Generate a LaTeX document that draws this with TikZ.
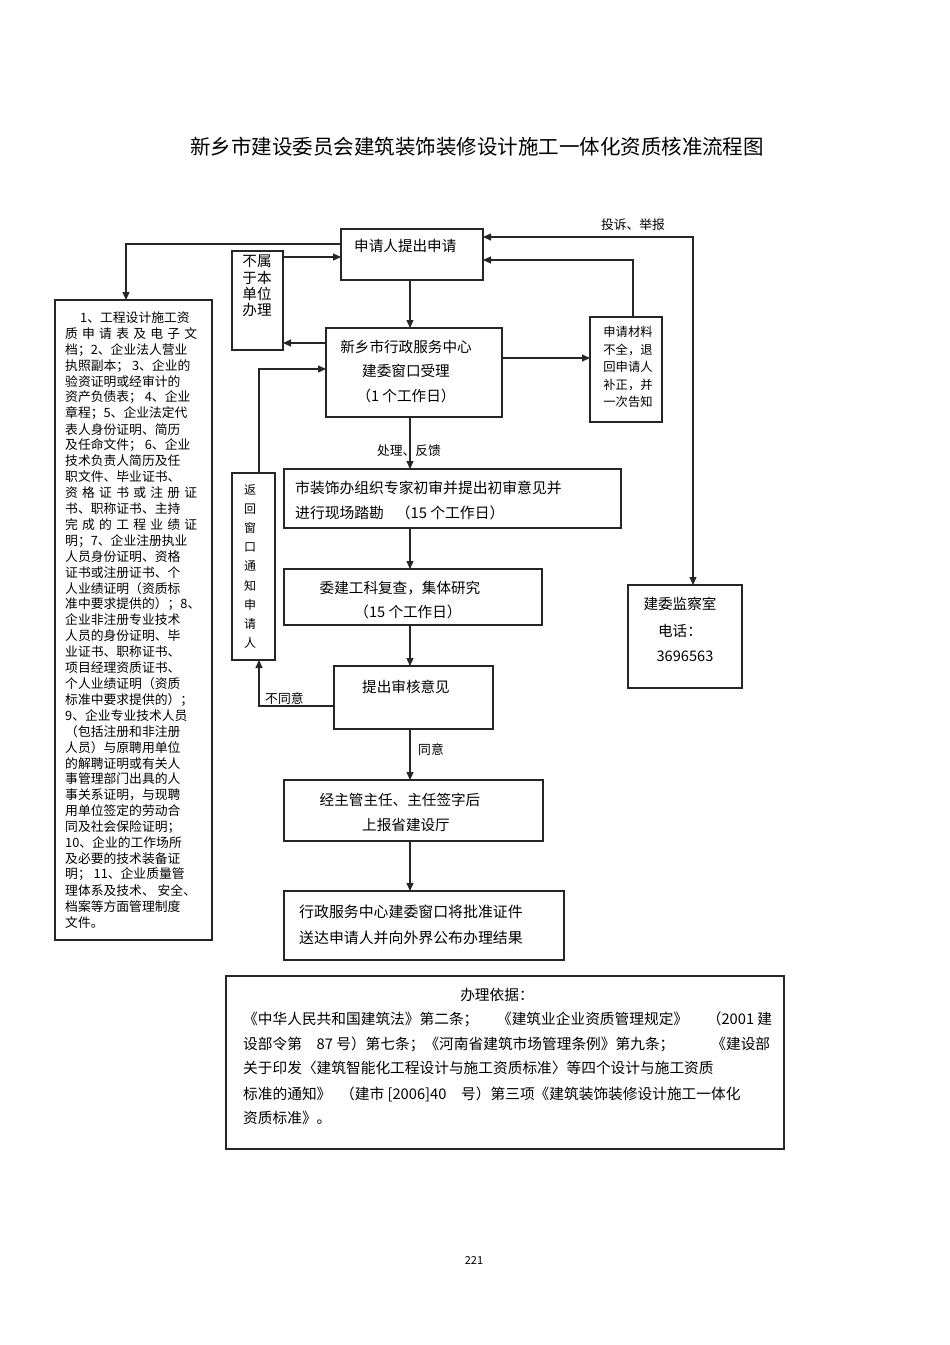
\documentclass[tikz,border=0pt]{standalone}
\usepackage{fontspec}
\setmainfont{Noto Sans CJK SC}
\usetikzlibrary{arrows.meta}
\newcommand\myfs[2]{\fontsize{#1}{#2}\selectfont}
\begin{document}
\begin{tikzpicture}[x=1pt,y=-1pt,
  box/.style={draw=black!85,line width=1.2pt,inner sep=0pt,outer sep=0pt},
  conn/.style={draw=black!85,line width=1.1pt},
  arr/.style={conn,-{Triangle[length=8pt,width=7pt]}},
  arrboth/.style={conn,{Triangle[length=8pt,width=7pt]}-{Triangle[length=8pt,width=7pt]}},
  txt/.style={inner sep=0pt,font=\myfs{14.6}{24.5}},
  doc/.style={inner sep=0pt,anchor=west,font=\myfs{12.8}{14}},
  lbl/.style={inner sep=0pt,font=\myfs{12.8}{14}},
  basisfont/.style={font=\myfs{14.7}{16}}]
\useasboundingbox[fill=white] (0,0) rectangle (950,1345);

% title
\node[inner sep=0pt,font=\myfs{20.5}{24}] (title) at (477,147) {新乡市建设委员会建筑装饰装修设计施工一体化资质核准流程图};

% boxes
\node[box,minimum width=142pt,minimum height=51pt] (apply) at (412,254.5) {};
\node[box,minimum width=51pt,minimum height=99pt] (notours) at (257.5,300.5) {};
\node[box,minimum width=176pt,minimum height=89pt] (center) at (414,372.5) {};
\node[box,minimum width=72pt,minimum height=105pt] (incomplete) at (626,369.5) {};
\node[box,minimum width=157pt,minimum height=640pt] (docs) at (133.5,620) {};
\node[box,minimum width=43pt,minimum height=187pt] (ret) at (253.5,566.5) {};
\node[box,minimum width=337pt,minimum height=59pt] (expert) at (452.5,498.5) {};
\node[box,minimum width=258pt,minimum height=56pt] (review) at (413,597) {};
\node[box,minimum width=159pt,minimum height=63pt] (opinion) at (413.5,697.5) {};
\node[box,minimum width=259pt,minimum height=61pt] (sign) at (413.5,810.5) {};
\node[box,minimum width=280pt,minimum height=69pt] (deliver) at (424,925.5) {};
\node[box,minimum width=114pt,minimum height=103pt] (supervise) at (685,636.5) {};
\node[box,minimum width=558pt,minimum height=173pt] (basis) at (505,1062.5) {};

% box texts
\node[txt,anchor=west] (applyt) at (354,246) {申请人提出申请};
\node[txt,align=center,font=\myfs{14.6}{16.2}] (notourst) at (257,286) {不属\\于本\\单位\\办理};
\node[txt,align=center] (centert) at (406,371.5) {新乡市行政服务中心\\建委窗口受理\\（1 个工作日）};
\node[txt,align=center,font=\myfs{12.3}{17.6}] (incompletet) at (628,367) {申请材料\\不全，退\\回申请人\\补正，并\\一次告知};
\node[txt,align=center,font=\myfs{12}{19.1}] (rett) at (250,566.5) {返\\回\\窗\\口\\通\\知\\申\\请\\人};
\node[txt,align=left,anchor=west,font=\myfs{14.8}{25}] (expertt) at (295,500.5) {市装饰办组织专家初审并提出初审意见并\\进行现场踏勘\hspace{0.8em}（15 个工作日）};
\node[txt] (reviewt1) at (400,588) {委建工科复查，集体研究};
\node[txt] (reviewt2) at (408,612) {（15 个工作日）};
\node[txt] (opiniont) at (406,687) {提出审核意见};
\node[txt] (signt1) at (400,800) {经主管主任、主任签字后};
\node[txt] (signt2) at (406,825) {上报省建设厅};
\node[txt,align=left,anchor=west,font=\myfs{14.9}{26}] (delivert) at (299,925) {行政服务中心建委窗口将批准证件\\送达申请人并向外界公布办理结果};
\node[txt] (supt1) at (680,604) {建委监察室};
\node[txt] (supt2) at (680,631) {电话：};
\node[txt] (supt3) at (685,656) {3696563};

% docs list
\node[doc] (d1) at (80,318) {1、工程设计施工资};
\foreach \t [count=\i from 2] in {
 {\makebox[132pt][l]{质\hfill 申\hfill 请\hfill 表\hfill 及\hfill 电\hfill 子\hfill 文}},
 {档；2、企业法人营业},
 {执照副本； 3、企业的},
 {验资证明或经审计的},
 {资产负债表； 4、企业},
 {章程；5、企业法定代},
 {表人身份证明、简历},
 {及任命文件； 6、企业},
 {技术负责人简历及任},
 {职文件、毕业证书、},
 {\makebox[132pt][l]{资\hfill 格\hfill 证\hfill 书\hfill 或\hfill 注\hfill 册\hfill 证}},
 {书、职称证书、主持},
 {\makebox[132pt][l]{完\hfill 成\hfill 的\hfill 工\hfill 程\hfill 业\hfill 绩\hfill 证}},
 {明；7、企业注册执业},
 {人员身份证明、资格},
 {证书或注册证书、个},
 {人业绩证明（资质标},
 {准中要求提供的）；8、},
 {企业非注册专业技术},
 {人员的身份证明、毕},
 {业证书、职称证书、},
 {项目经理资质证书、},
 {个人业绩证明（资质},
 {标准中要求提供的）；},
 {9、企业专业技术人员},
 {（包括注册和非注册},
 {人员）与原聘用单位},
 {的解聘证明或有关人},
 {事管理部门出具的人},
 {事关系证明，与现聘},
 {用单位签定的劳动合},
 {同及社会保险证明；},
 {10、企业的工作场所},
 {及必要的技术装备证},
 {明； 11、企业质量管},
 {理体系及技术、 安全、},
 {档案等方面管理制度},
 {文件。}}
  \node[doc] (d\i) at (65,{318+15.9*(\i-1)}) {\t};

% basis text
\node[txt,basisfont] (basist0) at (497,995) {办理依据：};
\node[txt,anchor=west,basisfont] (basist1) at (243,1019) {\makebox[529pt][l]{《中华人民共和国建筑法》第二条；\hfill《建筑业企业资质管理规定》\hfill（2001 建}};
\node[txt,anchor=west,basisfont] (basist2) at (243,1044) {\makebox[527pt][l]{设部令第\hspace{1em}87 号）第七条；《河南省建筑市场管理条例》第九条；\hfill《建设部}};
\node[txt,anchor=west,basisfont] (basist3) at (243,1068) {关于印发〈建筑智能化工程设计与施工资质标准〉等四个设计与施工资质};
\node[txt,anchor=west,basisfont] (basist4) at (243,1094) {标准的通知》\hspace{0.6em}（建市 [2006]40\hspace{1em}号）第三项《建筑装饰装修设计施工一体化};
\node[txt,anchor=west,basisfont] (basist5) at (243,1118) {资质标准》。};

% page number
\node[inner sep=0pt,font=\myfs{11}{12}] (pageno) at (474,1260) {221};

% connectors
\coordinate (spine) at (410,0);
\draw[arr] (apply.south -| spine) -- (center.north -| spine);
\draw[arr] (center.south -| spine) -- (expert.north -| spine);
\node[lbl] (l1) at (409,451) {处理、反馈};
\draw[arr] (expert.south -| spine) -- (review.north -| spine);
\draw[arr] (review.south -| spine) -- (opinion.north -| spine);
\draw[arr] (opinion.south -| spine) -- (sign.north -| spine);
\node[lbl,anchor=west] (l2) at (418,750) {同意};
\draw[arr] (sign.south -| spine) -- (deliver.north -| spine);

\draw[arr] ([yshift=10.5pt]apply.west) -| ([xshift=-7.5pt]docs.north);
\draw[arr] ([yshift=43.5pt]notours.east) -- ([yshift=43.5pt]notours.east -| apply.west);
\draw[arr] ([yshift=29.5pt]center.west) -- ([yshift=29.5pt]center.west -| notours.east);
\draw[arr] ([xshift=5.5pt]ret.north) |- ([yshift=3.5pt]center.west);
\draw[arr] ([yshift=14.5pt]center.east) -- ([yshift=14.5pt]center.east -| incomplete.west);
\draw[arr] ([xshift=7pt]incomplete.north) |- ([yshift=-5.5pt]apply.east);
\draw[arrboth] ([yshift=17.5pt]apply.east) -| ([xshift=8pt]supervise.north);
\node[lbl] (l3) at (633,225) {投诉、举报};
\draw[arr] ([yshift=-8.5pt]opinion.west) -| ([xshift=5.5pt]ret.south);
\node[lbl,anchor=west] (l4) at (265,699) {不同意};
\end{tikzpicture}
\end{document}
